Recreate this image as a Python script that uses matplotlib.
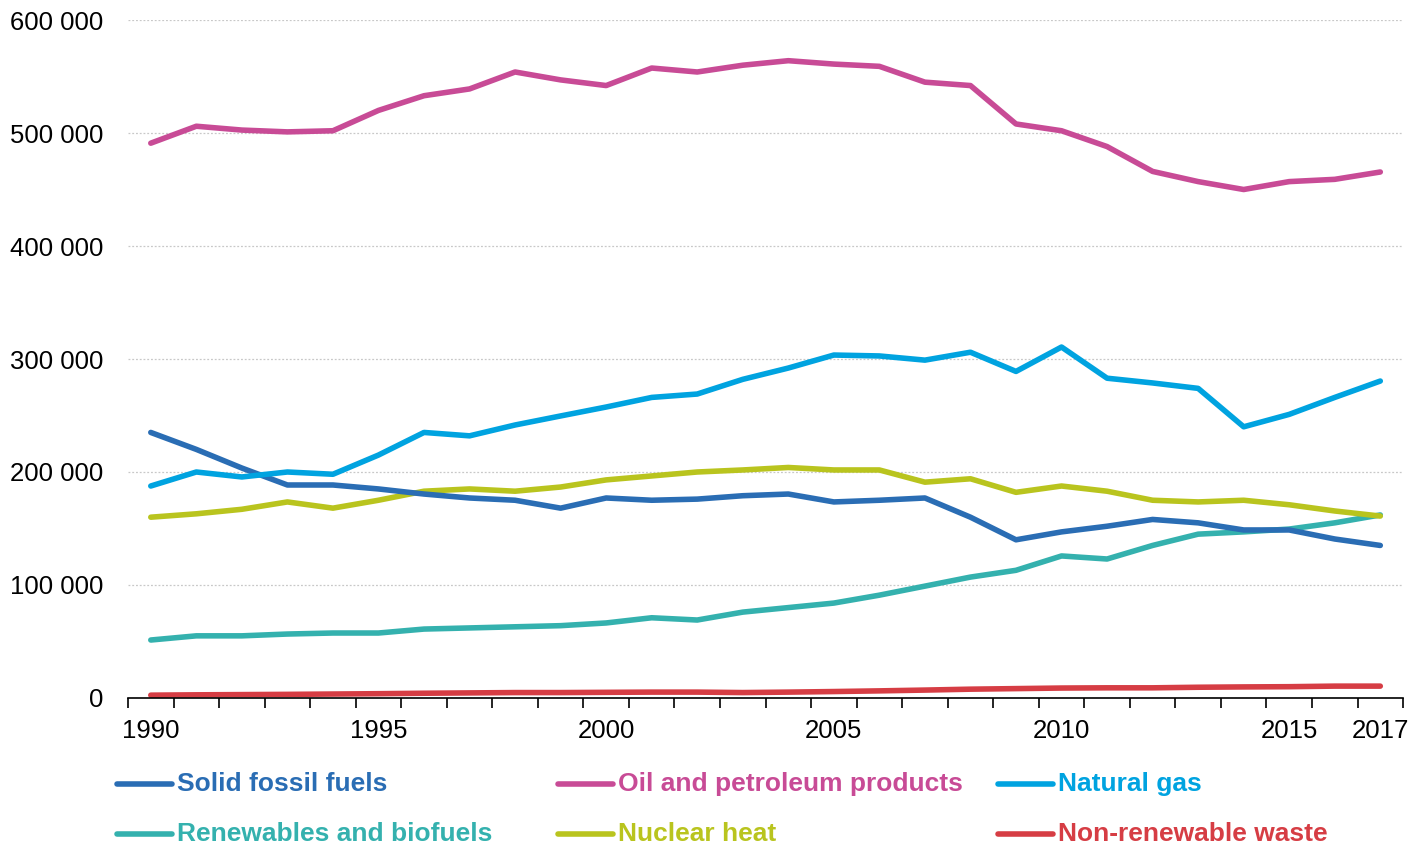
import numpy as np
import matplotlib.pyplot as plt
from matplotlib.lines import Line2D
from matplotlib.ticker import FuncFormatter

plt.rcParams['font.family'] = ['Liberation Sans', 'DejaVu Sans']

years = list(range(1990, 2018))

solid_fossil = [235000, 220000, 203500, 188500, 188500, 185000, 180500, 177000, 175000, 168000,
                177000, 175000, 176000, 179000, 180500, 173500, 175000, 177000, 160000, 140000,
                147000, 152000, 158000, 155000, 148700, 148700, 140700, 135000]
oil = [491000, 506000, 502600, 501000, 502000, 520000, 533000, 539000, 554000, 547000,
       542000, 557500, 554000, 560000, 564000, 561000, 559000, 545000, 542000, 508000,
       502000, 488000, 466000, 457000, 450000, 457000, 459000, 465500]
natural_gas = [187600, 200000, 195600, 200000, 198000, 215000, 235000, 232000, 241600, 249600,
               257500, 266000, 269000, 282000, 292000, 303500, 302700, 299000, 306000, 289000,
               310600, 283000, 278800, 274000, 240000, 251000, 266000, 280500]
renewables = [51300, 55000, 55000, 56600, 57500, 57500, 61000, 62000, 63000, 64000,
              66400, 71000, 69000, 76000, 80000, 84000, 91000, 99000, 107000, 113000,
              125700, 123000, 135000, 145000, 147000, 149500, 155000, 162000]
nuclear = [160000, 163000, 167000, 173500, 168000, 175000, 183000, 185000, 183000, 186700,
           193000, 196500, 200000, 201800, 204000, 201800, 201800, 191000, 194000, 182000,
           187600, 183000, 175000, 173500, 175000, 171000, 165500, 161000]
waste = [2500, 2800, 3000, 3200, 3500, 3800, 4200, 4500, 4800, 4800,
         5000, 5200, 5200, 4800, 5200, 5700, 6300, 7000, 7800, 8300,
         8800, 9000, 9000, 9500, 9800, 10000, 10500, 10500]

names = ['Solid fossil fuels', 'Oil and petroleum products', 'Natural gas',
         'Renewables and biofuels', 'Nuclear heat', 'Non-renewable waste']
series = [solid_fossil, oil, natural_gas, renewables, nuclear, waste]
colors = ['#2a6db4', '#c84b96', '#00a3e0', '#34b1ae', '#b9c41e', '#d63d44']

fig = plt.figure(figsize=(14.24, 8.48), dpi=100)
ax = fig.add_axes([0.0899, 0.1769, 0.8954, 0.7995])

# draw order: waste, renewables, nuclear, solid, gas, oil
for i in [5, 3, 4, 0, 2, 1]:
    ax.plot(years, series[i], color=colors[i], lw=4, solid_capstyle='round',
            solid_joinstyle='round')

ax.set_xlim(1989.5, 2017.5)
ax.set_ylim(0, 600000)

ax.set_yticks(np.arange(0, 600001, 100000))
ax.yaxis.set_major_formatter(FuncFormatter(lambda v, p: f'{int(v):,}'.replace(',', ' ')))
ax.tick_params(axis='y', length=0, pad=18, labelsize=18.5)
ax.grid(axis='y', color='#c8c8c8', linestyle=(0, (1.5, 1.5)), lw=0.9)
ax.set_axisbelow(True)

# ticks between years, labels on selected years
ax.set_xticks(np.arange(1989.5, 2018, 1))
ax.set_xticklabels([])
ax.tick_params(axis='x', which='major', length=7, width=1.2, color='black')
ax.set_xticks([1990, 1995, 2000, 2005, 2010, 2015, 2017], minor=True)
ax.set_xticklabels(['1990', '1995', '2000', '2005', '2010', '2015', '2017'], minor=True)
ax.tick_params(axis='x', which='minor', length=0, pad=15, labelsize=18.5)

for s in ['top', 'right', 'left']:
    ax.spines[s].set_visible(False)
ax.spines['bottom'].set_linewidth(1.2)

# legend, laid out in fixed columns
col_x = [117, 558, 998]
row_y = [784, 834]
W, H = 1424, 848
for k, (name, c) in enumerate(zip(names, colors)):
    x0 = col_x[k % 3]
    y0 = row_y[k // 3]
    fig.add_artist(Line2D([x0 / W, (x0 + 55) / W], [1 - y0 / H, 1 - y0 / H],
                          color=c, lw=4, solid_capstyle='round'))
    fig.text((x0 + 60) / W, 1 - y0 / H, name, color=c, fontsize=19,
             fontweight='bold', va='center', ha='left')

fig.savefig('out.png', dpi=100)
